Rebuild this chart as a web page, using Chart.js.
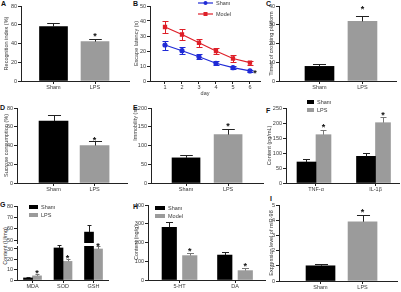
<!DOCTYPE html>
<html>
<head>
<meta charset="utf-8">
<script src="https://cdn.jsdelivr.net/npm/chart.js@4.4.1/dist/chart.umd.min.js"></script>
<style>
body { margin: 0; background: #fff; width: 401px; height: 292px; position: relative; overflow: hidden; }
canvas { position: absolute; left: 0; top: 0; }
.tag { position: absolute; font: bold 7px "Liberation Sans", Arial, sans-serif; line-height: 7px; color: #111; }
.ytitle { position: absolute; font: 5.5px "Liberation Sans", Arial, sans-serif; color: #333; white-space: nowrap;
          transform: translate(-50%, -50%) rotate(-90deg); }
</style>
</head>
<body>
<div class="tag" style="left:1px;top:0px">A</div>
<div class="tag" style="left:133px;top:0px">B</div>
<div class="tag" style="left:266px;top:0px">C</div>
<div class="tag" style="left:0px;top:104px">D</div>
<div class="tag" style="left:133px;top:104px">E</div>
<div class="tag" style="left:266px;top:107px">F</div>
<div class="tag" style="left:0px;top:201px">G</div>
<div class="tag" style="left:133px;top:203px">H</div>
<div class="tag" style="left:270px;top:195px">I</div>
<div class="ytitle" style="left:5px;top:246px">Content (U/mg)</div>

<canvas id="cA" width="401" height="292"></canvas>
<canvas id="cB" width="401" height="292"></canvas>
<canvas id="cC" width="401" height="292"></canvas>
<canvas id="cD" width="401" height="292"></canvas>
<canvas id="cE" width="401" height="292"></canvas>
<canvas id="cF" width="401" height="292"></canvas>
<canvas id="cG1" width="401" height="292"></canvas>
<canvas id="cG2" width="401" height="292"></canvas>
<canvas id="cH" width="401" height="292"></canvas>
<canvas id="cI" width="401" height="292"></canvas>

<script>
// A - recognition index
const twoGroups = ['Sham', 'LPS'];
const recogIndex = [58, 42];
const recogSem = [4, 3];
const recogTicks = [0, 20, 40, 60, 80];

// B - escape latency over days
const days = [1, 2, 3, 4, 5, 6];
const shamLatency = [24, 20.2, 16.2, 11.8, 8.9, 6.7];
const shamLatencySem = [3, 2.2, 1.8, 1.3, 1, 0.5];
const modelLatency = [36, 31, 25.5, 20, 15, 12.2];
const modelLatencySem = [4, 3.5, 2.5, 2, 2, 1.3];
const latencyTicks = [0, 10, 20, 30, 40, 50];

// C - platform crossings
const crossTimes = [7.8, 31.8];
const crossSem = [1.1, 3.1];
const crossTicks = [0, 10, 20, 30, 40];

// D - sucrose consumption
const sucrose = [66, 40];
const sucroseSem = [7, 4.5];

// E - immobility
const immobility = [67, 129];
const immobilitySem = [8, 14];
const immobilityTicks = [0, 50, 100, 150, 200];

// F - cytokines
const cytokines = ['TNF-α', 'IL-1β'];
const cytoSham = [70, 89];
const cytoShamSem = [10, 10];
const cytoLps = [161, 201];
const cytoLpsSem = [17, 19];
const cytoTicks = [0, 50, 100, 150, 200, 250];

// G - oxidative stress (broken axis)
const oxMarkers = ['MDA', 'SOD', 'GSH'];
const oxSham = [2, 31, 57];
const oxShamSem = [0.5, 3, 6];
const oxLps = [4, 18, 30];
const oxLpsSem = [2, 2.5, 3];
const oxUpperTicks = [50, 60, 70, 80];
const oxLowerTicks = [0, 10, 20, 30];

// H - neurotransmitters
const transmitters = ['5-HT', 'DA'];
const ntSham = [281, 133];
const ntShamSem = [27, 18];
const ntModel = [130, 50];
const ntModelSem = [12, 12];
const ntTicks = [0, 100, 200, 300, 400];

// I - miR-98
const mir98 = [1, 3.9];
const mir98Sem = [0.12, 0.45];
const mirTicks = [0, 1, 2, 3, 4, 5];

const W = 401, H = 292;
const INK = '#222';
const TXT = '#3a3a3a';
const BLACK = '#000';
const GREY = '#9b9b9b';
const BLUE = '#1f2ad6';
const RED = '#de1f28';

Chart.defaults.font.family = '"Liberation Sans", Arial, sans-serif';
Chart.defaults.font.size = 5.5;
Chart.defaults.color = TXT;
Chart.defaults.animation = false;
Chart.defaults.responsive = false;
Chart.defaults.plugins.legend.display = false;
Chart.defaults.plugins.tooltip.enabled = false;
Chart.defaults.elements.bar.borderWidth = 0;

const px = v => Math.round(v) + 0.5;

// mean + SEM whiskers
const errorBars = {
  id: 'errorBars',
  afterDatasetsDraw(chart) {
    const { ctx, chartArea: a } = chart;
    const y = chart.scales.y;
    ctx.save();
    ctx.beginPath();
    ctx.rect(a.left, a.top - 1, a.right - a.left + 1, a.bottom - a.top + 1);
    ctx.clip();
    chart.data.datasets.forEach((ds, di) => {
      if (!ds.errors) return;
      const meta = chart.getDatasetMeta(di);
      ctx.strokeStyle = ds.errorColor || INK;
      ctx.lineWidth = 1;
      meta.data.forEach((el, i) => {
        const v = ds.data[i].y, e = ds.errors[i];
        const top = px(y.getPixelForValue(v + e));
        const both = ds.type === 'line' || chart.config.type === 'line';
        const bot = both ? px(y.getPixelForValue(v - e)) : el.y;
        const cap = ds.capWidth || el.width * 0.45;
        const x = px(el.x);
        ctx.beginPath();
        ctx.moveTo(x, bot);
        ctx.lineTo(x, top);
        ctx.moveTo(x - cap / 2, top);
        ctx.lineTo(x + cap / 2, top);
        if (both) {
          ctx.moveTo(x - cap / 2, bot);
          ctx.lineTo(x + cap / 2, bot);
        }
        ctx.stroke();
      });
    });
    ctx.restore();
  }
};

// significance asterisks
const starMarks = {
  id: 'starMarks',
  afterDatasetsDraw(chart) {
    const { ctx } = chart;
    const y = chart.scales.y;
    const fs = 9;
    ctx.save();
    ctx.font = 'bold ' + fs + 'px "Liberation Sans", Arial, sans-serif';
    ctx.textAlign = 'center';
    ctx.textBaseline = 'alphabetic';
    ctx.fillStyle = '#111';
    chart.data.datasets.forEach((ds, di) => {
      if (!ds.stars) return;
      const meta = chart.getDatasetMeta(di);
      meta.data.forEach((el, i) => {
        if (!ds.stars[i]) return;
        let cx, cy;
        if (ds.starSide) {
          cx = el.x + 5;
          cy = el.y;
        } else {
          const v = ds.data[i].y + (ds.errors ? ds.errors[i] : 0);
          if (v > y.max + 0.5 || v < y.min) return;
          cx = el.x;
          cy = y.getPixelForValue(v) - (ds.starGap || 5);
        }
        ctx.fillText('*', cx, cy + 0.57 * fs);
      });
    });
    ctx.restore();
  }
};

// small legend drawn inside the plot
const legendBox = {
  id: 'legendBox',
  afterDraw(chart, args, o) {
    if (!o || o.x === undefined) return;
    const ctx = chart.ctx;
    ctx.save();
    ctx.font = '5.5px "Liberation Sans", Arial, sans-serif';
    ctx.textBaseline = 'middle';
    chart.data.datasets.forEach((ds, i) => {
      const yy = o.y + i * o.gap;
      if (o.kind === 'line') {
        ctx.strokeStyle = ds.borderColor;
        ctx.lineWidth = 1.2;
        ctx.beginPath();
        ctx.moveTo(o.x, yy);
        ctx.lineTo(o.x + o.w, yy);
        ctx.stroke();
        ctx.fillStyle = ds.borderColor;
        const mx = o.x + o.w / 2;
        if (ds.pointStyle === 'rect') ctx.fillRect(mx - 2, yy - 2, 4, 4);
        else { ctx.beginPath(); ctx.arc(mx, yy, 2, 0, Math.PI * 2); ctx.fill(); }
      } else {
        ctx.fillStyle = ds.backgroundColor;
        ctx.fillRect(o.x, yy - o.h / 2, o.w, o.h);
      }
      ctx.fillStyle = TXT;
      ctx.fillText(ds.label, o.x + o.w + 3, yy + 0.3);
    });
    ctx.restore();
  }
};

function makePanel(id, s) {
  const [l, t, r, b] = s.area;
  const xh = s.xHidden ? 0 : (s.xh || 12);
  const yw = s.titleX ? l - s.titleX + 3.3 : 12;
  const labelOf = v => s.xLabels ? s.xLabels[s.xTicks.indexOf(v)] : String(v);
  return new Chart(document.getElementById(id), {
    type: s.type || 'bar',
    data: { datasets: s.datasets },
    options: {
      layout: { padding: { left: l - yw, top: t, right: W - r, bottom: H - b - xh } },
      scales: {
        x: {
          type: 'linear',
          offset: false,
          min: s.xRange[0],
          max: s.xRange[1],
          display: !s.xHidden,
          grid: { offset: false, drawOnChartArea: false, tickLength: 3, color: INK, lineWidth: 1 },
          border: { color: INK, width: 1 },
          ticks: { padding: 0.5, maxRotation: 0, autoSkip: false, callback: labelOf },
          afterBuildTicks: sc => { sc.ticks = s.xTicks.map(v => ({ value: v })); },
          afterFit: sc => { sc.height = xh; },
          title: { display: !!s.xTitle, text: s.xTitle, padding: 0 }
        },
        y: {
          min: s.yRange[0],
          max: s.yRange[1],
          grid: { drawOnChartArea: false, tickLength: 3, color: INK, lineWidth: 1 },
          border: { color: INK, width: 1 },
          ticks: { padding: 1 },
          afterBuildTicks: sc => { sc.ticks = s.yTicks.map(v => ({ value: v })); },
          afterFit: sc => { sc.width = yw; },
          title: { display: !!s.yTitle, text: s.yTitle, padding: 0, align: s.yTitleAlign || 'center' }
        }
      },
      plugins: { legendBox: s.legend || false }
    },
    plugins: [errorBars, starMarks, legendBox]
  });
}

const pts = (vals, xs) => vals.map((v, i) => ({ x: xs ? xs[i] : i + 1, y: v }));

function pairBars(vals, errs, width, gap) {
  return [{
    data: pts(vals),
    backgroundColor: [BLACK, GREY],
    barThickness: width,
    errors: errs,
    errorColor: INK,
    stars: [false, true],
    starGap: gap
  }];
}

// A
makePanel('cA', {
  area: [21, 6, 129, 81], titleX: 6.5,
  xRange: [0.217, 2.819], xTicks: [1, 2], xLabels: twoGroups,
  yRange: [0, 80], yTicks: recogTicks, yTitle: 'Recognition index (%)',
  datasets: pairBars(recogIndex, recogSem, 28, 5)
});

// B
makePanel('cB', {
  type: 'line',
  area: [150, 6, 260, 81], titleX: 136, xh: 16,
  xRange: [0.118, 6.59], xTicks: days, xTitle: 'day',
  yRange: [0, 50], yTicks: latencyTicks, yTitle: 'Escape latency (s)',
  legend: { kind: 'line', x: 198, y: 3, gap: 11, w: 15 },
  datasets: [
    { label: 'Sham', data: pts(shamLatency, days), borderColor: BLUE, backgroundColor: BLUE,
      borderWidth: 1.2, pointRadius: 2, pointStyle: 'circle', errors: shamLatencySem, errorColor: BLUE,
      capWidth: 6, stars: [false, false, false, false, false, true], starSide: true },
    { label: 'Model', data: pts(modelLatency, days), borderColor: RED, backgroundColor: RED,
      borderWidth: 1.2, pointRadius: 2.2, pointStyle: 'rect', errors: modelLatencySem, errorColor: RED,
      capWidth: 6 }
  ]
});

// C
makePanel('cC', {
  area: [279, 6, 396, 81], titleX: 271,
  xRange: [0.058, 2.78], xTicks: [1, 2], xLabels: twoGroups,
  yRange: [0, 40], yTicks: crossTicks, yTitle: 'Times of crossing platform',
  datasets: pairBars(crossTimes, crossSem, 29, 9)
});

// D
makePanel('cD', {
  area: [17, 108, 127, 183], titleX: 6.5, xh: 10,
  xRange: [0.11, 2.79], xTicks: [1, 2], xLabels: twoGroups,
  yRange: [0, 80], yTicks: recogTicks, yTitle: 'Sucrose consumption (%)',
  datasets: pairBars(sucrose, sucroseSem, 29, 3)
});

// E
makePanel('cE', {
  area: [151, 108, 263, 183], titleX: 135.5, xh: 10,
  xRange: [0.167, 2.83], xTicks: [1, 2], xLabels: twoGroups,
  yRange: [0, 200], yTicks: immobilityTicks, yTitle: 'Immobility (s)', yTitleAlign: 'end',
  datasets: pairBars(immobility, immobilitySem, 28, 6)
});

// F
makePanel('cF', {
  area: [286, 108, 399, 183], titleX: 269.3, xh: 10,
  xRange: [0.496, 2.395], xTicks: [1, 2], xLabels: cytokines,
  yRange: [0, 250], yTicks: cytoTicks, yTitle: 'Content (pg/mL)',
  legend: { kind: 'box', x: 307, y: 102, gap: 8, w: 7, h: 4 },
  datasets: [
    { label: 'Sham', data: pts(cytoSham), backgroundColor: BLACK, barThickness: 19,
      errors: cytoShamSem, errorColor: INK, capWidth: 7 },
    { label: 'LPS', data: pts(cytoLps), backgroundColor: GREY, barThickness: 15,
      errors: cytoLpsSem, errorColor: '#777', capWidth: 6, stars: [true, true], starGap: 4.5 }
  ]
});

// G (two stacked charts form the broken axis)
function oxDatasets() {
  return [
    { label: 'Sham', data: pts(oxSham), backgroundColor: BLACK, barThickness: 9,
      errors: oxShamSem, errorColor: INK, capWidth: 4 },
    { label: 'LPS', data: pts(oxLps), backgroundColor: GREY, barThickness: 9,
      errors: oxLpsSem, errorColor: '#777', capWidth: 4, stars: [true, true, true], starGap: 2.5 }
  ];
}
makePanel('cG1', {
  area: [17, 206, 108, 243], xHidden: true,
  xRange: [0.492, 3.475], xTicks: [1, 2, 3], xLabels: oxMarkers,
  yRange: [47.4, 80], yTicks: oxUpperTicks,
  legend: { kind: 'box', x: 29, y: 207, gap: 8, w: 9, h: 4 },
  datasets: oxDatasets()
});
makePanel('cG2', {
  area: [17, 246, 108, 280], xh: 12,
  xRange: [0.492, 3.475], xTicks: [1, 2, 3], xLabels: oxMarkers,
  yRange: [0, 32.9], yTicks: oxLowerTicks,
  datasets: oxDatasets()
});

// H
makePanel('cH', {
  area: [148, 205, 265, 280], titleX: 136.3, xh: 12,
  xRange: [0.432, 2.54], xTicks: [1, 2], xLabels: transmitters,
  yRange: [0, 400], yTicks: ntTicks, yTitle: 'Content (ng/g)',
  legend: { kind: 'box', x: 155, y: 208, gap: 8, w: 10, h: 4 },
  datasets: [
    { label: 'Sham', data: pts(ntSham), backgroundColor: BLACK, barThickness: 20.5, maxBarThickness: 14.5,
      errors: ntShamSem, errorColor: INK, capWidth: 7 },
    { label: 'Model', data: pts(ntModel), backgroundColor: GREY, barThickness: 20.5, maxBarThickness: 14.5,
      errors: ntModelSem, errorColor: '#777', capWidth: 7, stars: [true, true], starGap: 4.5 }
  ]
});

// I
makePanel('cI', {
  area: [279, 205, 397, 281], titleX: 271, xh: 11,
  xRange: [0.012, 2.82], xTicks: [1, 2], xLabels: twoGroups,
  yRange: [0, 5], yTicks: mirTicks, yTitle: 'Expression level of miR-98',
  datasets: pairBars(mir98, mir98Sem, 29, 5.5)
});
</script>
</body>
</html>
